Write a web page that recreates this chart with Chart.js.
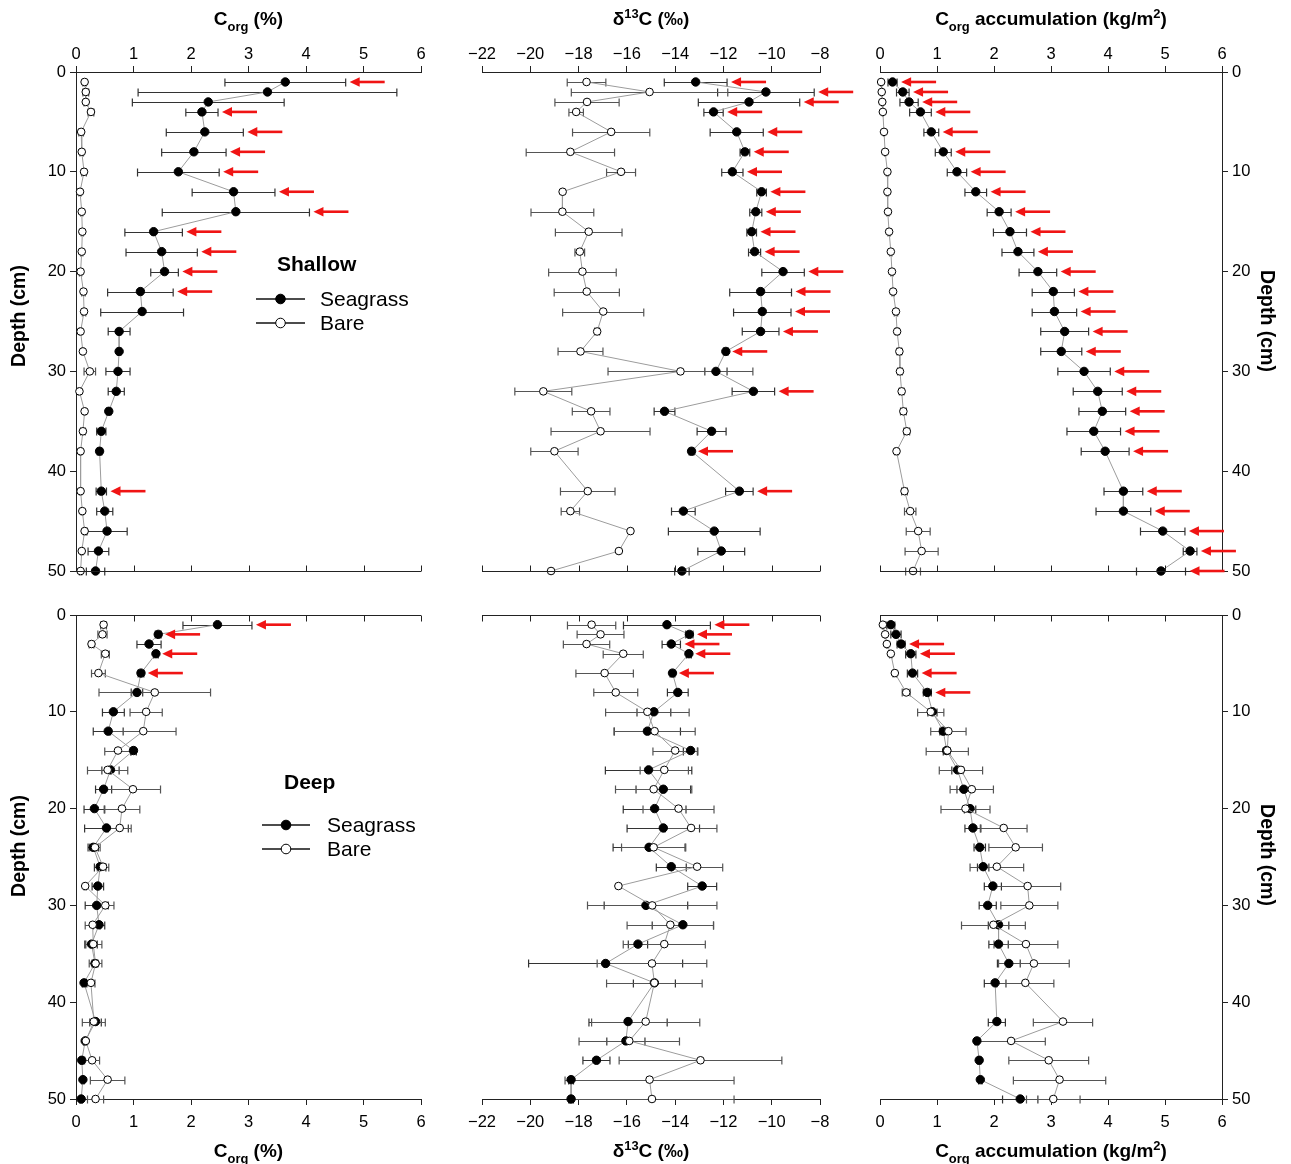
<!DOCTYPE html>
<html><head><meta charset="utf-8">
<script src="https://cdn.jsdelivr.net/npm/chart.js@4.4.1/dist/chart.umd.min.js"></script>
<style>
html,body{margin:0;padding:0;background:#fff;}
#wrap{position:relative;width:1291px;height:1164px;background:#fff;overflow:hidden;}
canvas{position:absolute;}
</style></head><body><div id="wrap">
<canvas id="c1"></canvas><canvas id="c2"></canvas><canvas id="c3"></canvas>
<canvas id="c4"></canvas><canvas id="c5"></canvas><canvas id="c6"></canvas>
</div>
<script>
// ---------- data ----------
const depths = [1,2,3,4,6,8,10,12,14,16,18,20,22,24,26,28,30,32,34,36,38,42,44,46,48,50];
const depthTicks = [0,10,20,30,40,50];
const corgTicks = [0,1,2,3,4,5,6];
const d13cTicks = [-22,-20,-18,-16,-14,-12,-10,-8];
const accTicks = [0,1,2,3,4,5,6];

// Shallow – Corg (%)
const shCorgSea    = [3.64,3.33,2.30,2.19,2.24,2.05,1.78,2.74,2.78,1.35,1.49,1.54,1.12,1.15,0.75,0.75,0.73,0.70,0.57,0.44,0.41,0.44,0.50,0.54,0.39,0.34];
const shCorgSeaErr = [1.05,2.25,1.32,0.28,0.67,0.56,0.71,0.72,1.28,0.50,0.62,0.24,0.57,0.72,0.19,0.03,0.21,0.14,0.04,0.08,0.04,0.09,0.14,0.35,0.18,0.16];
const shCorgBare   = [0.15,0.17,0.17,0.26,0.09,0.10,0.14,0.07,0.10,0.11,0.10,0.08,0.13,0.14,0.08,0.12,0.24,0.06,0.15,0.12,0.08,0.08,0.11,0.15,0.10,0.08];
const shCorgBareErr= [0.03,0.05,0.03,0.05,0.04,0.03,0.04,0.02,0.02,0.02,0.02,0.02,0.03,0.03,0.02,0.02,0.10,0.02,0.02,0.04,0.02,0.02,0.02,0.02,0.02,0.02];
const shCorgArrows = [1,4,6,8,10,12,14,16,18,20,22,42];

// Shallow – d13C
const shD13Sea     = [-13.15,-10.24,-10.94,-12.41,-11.45,-11.11,-11.63,-10.42,-10.66,-10.83,-10.71,-9.53,-10.46,-10.39,-10.46,-11.90,-12.31,-10.76,-14.44,-12.49,-13.32,-11.34,-13.66,-12.38,-12.09,-13.72];
const shD13SeaErr  = [1.30,2.00,2.10,0.40,1.10,0.20,0.44,0.20,0.25,0.20,0.25,0.88,1.28,1.19,0.76,0.10,0.46,0.88,0.43,0.60,0.10,0.57,0.49,1.90,0.97,0.30];
const shD13Bare    = [-17.67,-15.06,-17.65,-18.10,-16.65,-18.34,-16.24,-18.66,-18.67,-17.58,-17.95,-17.84,-17.66,-16.98,-17.23,-17.92,-13.78,-19.46,-17.48,-17.09,-19.00,-17.62,-18.34,-15.85,-16.33,-19.14];
const shD13BareErr = [0.80,3.24,1.33,0.30,1.60,1.83,0.60,0.00,1.30,1.38,0.20,1.40,1.35,1.68,0.10,0.93,3.00,1.18,0.78,2.05,0.98,1.13,0.38,0.00,0.00,0.00];
const shD13Arrows  = [1,2,3,4,6,8,10,12,14,16,18,20,22,24,26,28,32,38,42];

// Shallow – Corg accumulation (kg/m2)
const shAccSea     = [0.22,0.40,0.51,0.71,0.90,1.11,1.35,1.68,2.09,2.28,2.42,2.77,3.04,3.06,3.24,3.18,3.58,3.82,3.90,3.75,3.95,4.27,4.27,4.96,5.44,4.93];
const shAccSeaErr  = [0.08,0.11,0.16,0.19,0.13,0.14,0.17,0.19,0.21,0.29,0.28,0.33,0.37,0.39,0.42,0.36,0.46,0.43,0.41,0.47,0.42,0.34,0.48,0.39,0.12,0.43];
const shAccBare    = [0.02,0.03,0.04,0.05,0.07,0.09,0.13,0.13,0.14,0.16,0.19,0.21,0.23,0.28,0.30,0.34,0.35,0.38,0.41,0.47,0.29,0.43,0.53,0.67,0.73,0.58];
const shAccBareErr = [0.01,0.01,0.01,0.01,0.01,0.01,0.02,0.02,0.02,0.02,0.02,0.02,0.02,0.03,0.03,0.04,0.04,0.04,0.05,0.05,0.03,0.05,0.10,0.21,0.29,0.13];
const shAccArrows  = [1,2,3,4,6,8,10,12,14,16,18,20,22,24,26,28,30,32,34,36,38,42,44,46,48,50];

// Deep – Corg (%)
const dpCorgSea    = [2.46,1.43,1.27,1.39,1.13,1.06,0.65,0.56,1.00,0.60,0.48,0.32,0.53,0.30,0.42,0.38,0.36,0.40,0.27,0.33,0.14,0.34,0.16,0.10,0.12,0.09];
const dpCorgSeaErr = [0.60,0.05,0.21,0.04,0.05,0.10,0.19,0.26,0.05,0.15,0.14,0.18,0.38,0.09,0.10,0.10,0.20,0.10,0.10,0.05,0.03,0.10,0.03,0.02,0.02,0.02];
const dpCorgBare   = [0.48,0.46,0.27,0.51,0.39,1.37,1.22,1.17,0.73,0.55,0.99,0.80,0.76,0.33,0.47,0.16,0.51,0.29,0.30,0.34,0.26,0.31,0.17,0.28,0.55,0.34];
const dpCorgBareErr= [0.05,0.08,0.04,0.07,0.12,0.97,0.28,0.57,0.23,0.35,0.48,0.31,0.20,0.09,0.10,0.02,0.15,0.13,0.15,0.11,0.07,0.20,0.03,0.13,0.30,0.14];
const dpCorgArrows = [1,2,4,6];

// Deep – d13C
const dpD13Sea     = [-14.34,-13.41,-14.16,-13.43,-14.11,-13.89,-14.88,-15.15,-13.36,-15.10,-14.49,-14.85,-14.49,-15.08,-14.16,-12.88,-15.21,-13.68,-15.54,-16.88,-14.86,-15.95,-16.04,-17.26,-18.31,-18.31];
const dpD13SeaErr  = [1.80,0.15,0.38,0.10,0.10,0.43,0.70,1.37,0.30,1.79,1.13,1.30,1.50,1.49,0.62,0.60,1.73,1.27,0.40,3.19,0.87,1.62,0.79,0.56,0.10,0.10];
const dpD13Bare    = [-17.46,-17.09,-17.67,-16.15,-16.92,-16.46,-15.15,-14.85,-14.00,-14.45,-14.89,-13.86,-13.34,-14.89,-13.09,-16.35,-14.95,-14.20,-14.45,-14.96,-14.86,-15.22,-15.90,-12.95,-15.06,-14.96];
const dpD13BareErr = [1.00,0.97,0.96,0.83,1.19,0.91,1.73,1.68,0.92,1.00,1.58,1.47,1.07,1.33,1.06,0.00,2.68,1.79,1.70,2.27,1.98,2.24,2.08,3.37,3.50,3.40];
const dpD13Arrows  = [1,2,3,4,6];

// Deep – Corg accumulation (kg/m2)
const dpAccSea     = [0.19,0.28,0.37,0.54,0.57,0.83,0.92,1.11,1.17,1.36,1.47,1.58,1.63,1.75,1.81,1.98,1.89,2.08,2.08,2.26,2.02,2.05,1.70,1.74,1.76,2.46];
const dpAccSeaErr  = [0.07,0.09,0.07,0.09,0.09,0.07,0.08,0.06,0.06,0.10,0.12,0.10,0.14,0.10,0.10,0.15,0.15,0.18,0.17,0.20,0.19,0.15,0.03,0.03,0.03,0.31];
const dpAccBare    = [0.05,0.09,0.12,0.19,0.26,0.46,0.89,1.20,1.18,1.42,1.61,1.50,2.17,2.38,2.05,2.59,2.62,1.99,2.56,2.70,2.55,3.21,2.30,2.96,3.15,3.04];
const dpAccBareErr = [0.01,0.01,0.01,0.02,0.03,0.07,0.23,0.31,0.37,0.38,0.38,0.43,0.41,0.47,0.47,0.58,0.50,0.56,0.56,0.62,0.50,0.52,0.60,0.70,0.81,0.47];
const dpAccArrows  = [3,4,6,8];

// ---------- drawing ----------
const FONT = "'Liberation Sans', Arial, Helvetica, sans-serif";
Chart.defaults.font.family = FONT;

const T_CORG = [{t:'C'},{t:'org',sub:true},{t:' (%)'}];
const T_D13  = [{t:'δ'},{t:'13',sup:true},{t:'C (‰)'}];
const T_ACC  = [{t:'C'},{t:'org',sub:true},{t:' accumulation (kg/m'},{t:'2',sup:true},{t:')'}];

function fmt(v){ return v < 0 ? '\u2212' + Math.abs(v) : String(v); }

function drawRich(ctx, segs, cx, cy, size, rot){
  ctx.save();
  ctx.translate(cx, cy); if (rot) ctx.rotate(rot);
  let total = 0;
  const parts = segs.map(s => {
    const fs = (s.sub || s.sup) ? size * 0.68 : size;
    const font = 'bold ' + fs + 'px ' + FONT;
    ctx.font = font;
    const w = ctx.measureText(s.t).width; total += w;
    return Object.assign({}, s, {font, w});
  });
  let xx = -total / 2;
  ctx.fillStyle = '#000'; ctx.textAlign = 'left'; ctx.textBaseline = 'alphabetic';
  parts.forEach(p => {
    ctx.font = p.font;
    const dy = p.sub ? size * 0.3 : (p.sup ? -size * 0.38 : 0);
    ctx.fillText(p.t, xx, size * 0.36 + dy);
    xx += p.w;
  });
  ctx.restore();
}

function drawArrow(ctx, tip, py, len){
  ctx.save();
  ctx.strokeStyle = '#f01414'; ctx.fillStyle = '#f01414'; ctx.lineWidth = 2.6;
  ctx.beginPath(); ctx.moveTo(tip + 7, py); ctx.lineTo(tip + len, py); ctx.stroke();
  ctx.beginPath(); ctx.moveTo(tip, py); ctx.lineTo(tip + 10, py - 4.8); ctx.lineTo(tip + 10, py + 4.8); ctx.closePath(); ctx.fill();
  ctx.restore();
}

function drawLegendEntry(ctx, x1, x2, y, filled, label, tx){
  ctx.save();
  ctx.strokeStyle = '#111'; ctx.lineWidth = 1.4;
  ctx.beginPath(); ctx.moveTo(x1, y); ctx.lineTo(x2, y); ctx.stroke();
  ctx.beginPath(); ctx.arc((x1 + x2) / 2, y, 4.8, 0, Math.PI * 2);
  ctx.fillStyle = filled ? '#000' : '#fff'; ctx.fill();
  ctx.lineWidth = 1; ctx.strokeStyle = '#000'; ctx.stroke();
  ctx.fillStyle = '#000'; ctx.font = '21px ' + FONT; ctx.textBaseline = 'middle'; ctx.textAlign = 'left';
  ctx.fillText(label, tx, y + 1);
  ctx.restore();
}

const panelPlugin = {
  id: 'panel',
  beforeDatasetsDraw(chart){
    const {ctx, scales:{x, y}} = chart;
    chart.data.datasets.forEach(ds => {
      ctx.save();
      ctx.strokeStyle = ds.errColor; ctx.lineWidth = 1.2;
      ds.data.forEach((p, i) => {
        const e = ds.errors[i]; if (!e) return;
        const py = Math.round(y.getPixelForValue(p.y)) + 0.5;
        const x1 = x.getPixelForValue(p.x - e), x2 = x.getPixelForValue(p.x + e);
        ctx.beginPath();
        ctx.moveTo(x1, py); ctx.lineTo(x2, py);
        ctx.moveTo(x1, py - 4); ctx.lineTo(x1, py + 4);
        ctx.moveTo(x2, py - 4); ctx.lineTo(x2, py + 4);
        ctx.stroke();
      });
      ctx.restore();
    });
  },
  afterDraw(chart, args, o){
    const {ctx, chartArea:ca, scales:{x, y}} = chart;
    ctx.save();
    ctx.strokeStyle = '#222'; ctx.lineWidth = 1;
    const yy = (o.inner === 'bottom' ? Math.round(ca.bottom) : Math.round(ca.top)) + 0.5;
    const dir = o.inner === 'bottom' ? -1 : 1;
    ctx.beginPath(); ctx.moveTo(ca.left, yy); ctx.lineTo(ca.right, yy);
    x.ticks.forEach(t => {
      const px = Math.round(x.getPixelForValue(t.value)) + 0.5;
      ctx.moveTo(px, yy); ctx.lineTo(px, yy + dir * 6);
    });
    ctx.stroke();
    ctx.restore();
    const ds = chart.data.datasets.find(d => d.label === 'Seagrass');
    o.arrows.forEach(d => {
      const i = depths.indexOf(d);
      const tip = x.getPixelForValue(ds.data[i].x + ds.errors[i]) + 4;
      drawArrow(ctx, tip, y.getPixelForValue(d), 35);
    });
    const cx = (ca.left + ca.right) / 2;
    drawRich(ctx, o.title, cx, o.titleY, 19, 0);
    if (o.depthTitle) {
      const dt = o.depthTitle;
      drawRich(ctx, [{t:'Depth (cm)'}], dt.x, dt.y, 19.5, dt.side === 'left' ? -Math.PI / 2 : Math.PI / 2);
    }
    if (o.legend) {
      const L = o.legend;
      ctx.save();
      ctx.fillStyle = '#000'; ctx.font = 'bold 21px ' + FONT; ctx.textBaseline = 'middle'; ctx.textAlign = 'left';
      ctx.fillText(L.name, L.nx, L.ny);
      ctx.restore();
      drawLegendEntry(ctx, L.lx1, L.lx2, L.y1, true, 'Seagrass', L.tx);
      drawLegendEntry(ctx, L.lx1, L.lx2, L.y2, false, 'Bare', L.tx);
    }
  }
};

function buildPanel(p){
  const cv = document.getElementById(p.id);
  cv.width = p.w; cv.height = p.h;
  Object.assign(cv.style, {left: p.x + 'px', top: p.y + 'px', width: p.w + 'px', height: p.h + 'px'});
  const mk = vals => depths.map((d, i) => ({x: vals[i], y: d}));
  const tickFont = {family: FONT, size: 16.5};
  new Chart(cv, {
    type: 'scatter',
    data: {datasets: [
      {label:'Seagrass', data: mk(p.sea), errors: p.seaErr, errColor:'#333', showLine:true,
       borderColor:'#9c9c9c', borderWidth:1, pointRadius:4.2, pointHoverRadius:4.2,
       pointBackgroundColor:'#000', pointBorderColor:'#000', pointBorderWidth:1, clip:false, order:1},
      {label:'Bare', data: mk(p.bare), errors: p.bareErr, errColor:'#555', showLine:true,
       borderColor:'#9c9c9c', borderWidth:1, pointRadius:3.8, pointHoverRadius:3.8,
       pointBackgroundColor:'#fff', pointBorderColor:'#000', pointBorderWidth:1, clip:false, order:0}
    ]},
    options: {
      responsive:false, maintainAspectRatio:false, animation:false, devicePixelRatio:1, events:[],
      layout:{padding:p.pad},
      plugins:{legend:{display:false}, tooltip:{enabled:false},
        panel:{inner:p.inner, arrows:p.arrows, title:p.title, titleY:p.titleY, depthTitle:p.depthTitle, legend:p.legend}},
      scales:{
        x:{type:'linear', position:p.xPos, min:p.xMin, max:p.xMax,
           afterBuildTicks: s => { s.ticks = p.xTicks.map(v => ({value:v})); },
           afterFit: s => { s.height = p.xH; },
           ticks:{font:tickFont, color:'#000', padding: p.xPos === 'top' ? 2 : 8, maxRotation:0, autoSkip:false, callback: v => fmt(v)},
           grid:{drawOnChartArea:false, drawTicks:true, tickLength:6, color:'#222', lineWidth:1},
           border:{display:true, color:'#222', width:1}},
        y:{type:'linear', position:p.yPos || 'left', display: !!p.yPos, reverse:true, min:0, max:50,
           afterBuildTicks: s => { s.ticks = depthTicks.map(v => ({value:v})); },
           afterFit: s => { if (p.yW) s.width = p.yW; },
           ticks:{font:tickFont, color:'#000', padding:4, callback: v => String(v)},
           grid:{drawOnChartArea:false, drawTicks:true, tickLength:6, color:'#222', lineWidth:1},
           border:{display:true, color:'#222', width:1}}
      }
    },
    plugins:[panelPlugin]
  });
}

const TOP = {y:0, h:600, xPos:'top', xH:72, inner:'bottom', titleY:18};
const BOT = {y:590, h:574, xPos:'bottom', xH:65, inner:'top', titleY:560};

buildPanel(Object.assign({}, TOP, {id:'c1', x:0, w:440, pad:{left:0,right:19,top:0,bottom:29}, yPos:'left', yW:76,
  xMin:0, xMax:6, xTicks:corgTicks, title:T_CORG,
  sea:shCorgSea, seaErr:shCorgSeaErr, bare:shCorgBare, bareErr:shCorgBareErr, arrows:shCorgArrows,
  depthTitle:{side:'left', x:18, y:316},
  legend:{name:'Shallow', nx:277, ny:265, lx1:256, lx2:305, y1:299, y2:323, tx:320}}));
buildPanel(Object.assign({}, TOP, {id:'c2', x:440, w:430, pad:{left:42,right:50,top:0,bottom:29},
  xMin:-22, xMax:-8, xTicks:d13cTicks, title:T_D13,
  sea:shD13Sea, seaErr:shD13SeaErr, bare:shD13Bare, bareErr:shD13BareErr, arrows:shD13Arrows}));
buildPanel(Object.assign({}, TOP, {id:'c3', x:860, w:431, pad:{left:20,right:0,top:0,bottom:29}, yPos:'right', yW:69,
  xMin:0, xMax:6, xTicks:accTicks, title:T_ACC,
  sea:shAccSea, seaErr:shAccSeaErr, bare:shAccBare, bareErr:shAccBareErr, arrows:shAccArrows,
  depthTitle:{side:'right', x:408, y:321}}));

buildPanel(Object.assign({}, BOT, {id:'c4', x:0, w:440, pad:{left:0,right:19,top:25,bottom:0}, yPos:'left', yW:76,
  xMin:0, xMax:6, xTicks:corgTicks, title:T_CORG,
  sea:dpCorgSea, seaErr:dpCorgSeaErr, bare:dpCorgBare, bareErr:dpCorgBareErr, arrows:dpCorgArrows,
  depthTitle:{side:'left', x:18, y:256},
  legend:{name:'Deep', nx:284, ny:193, lx1:262, lx2:310, y1:235, y2:259, tx:327}}));
buildPanel(Object.assign({}, BOT, {id:'c5', x:440, w:430, pad:{left:42,right:50,top:25,bottom:0},
  xMin:-22, xMax:-8, xTicks:d13cTicks, title:T_D13,
  sea:dpD13Sea, seaErr:dpD13SeaErr, bare:dpD13Bare, bareErr:dpD13BareErr, arrows:dpD13Arrows}));
buildPanel(Object.assign({}, BOT, {id:'c6', x:860, w:431, pad:{left:20,right:0,top:25,bottom:0}, yPos:'right', yW:69,
  xMin:0, xMax:6, xTicks:accTicks, title:T_ACC,
  sea:dpAccSea, seaErr:dpAccSeaErr, bare:dpAccBare, bareErr:dpAccBareErr, arrows:dpAccArrows,
  depthTitle:{side:'right', x:408, y:265}}));
</script>
</body></html>
